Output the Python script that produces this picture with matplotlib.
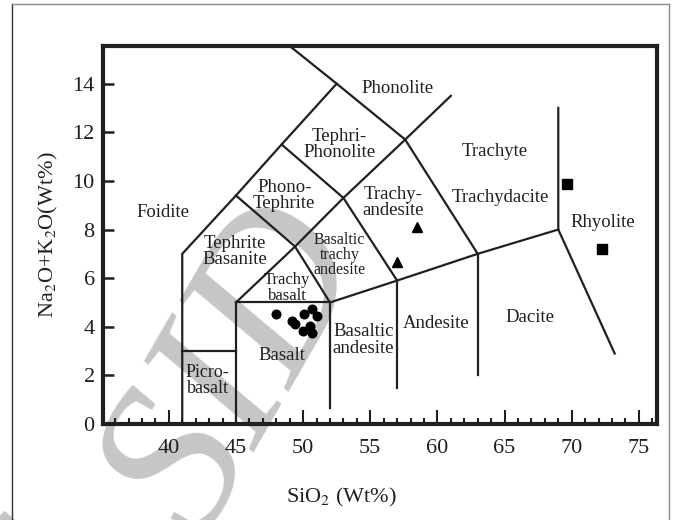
import matplotlib
matplotlib.use("Agg")
import matplotlib.pyplot as plt
from matplotlib.lines import Line2D
import numpy as np

plt.rcParams['font.family'] = ['Liberation Serif', 'DejaVu Serif']
plt.rcParams['mathtext.fontset'] = 'stix'

# --- TAS field boundaries (SiO2, Na2O+K2O) ---
boundaries = [
    [(41, 0), (41, 7), (45, 9.4), (48.4, 11.5), (52.5, 14), (49.0, 15.55)],
    [(41, 3), (45, 3)],
    [(45, 0), (45, 5), (52, 5), (52, 0.65)],
    [(45, 5), (49.4, 7.3), (53, 9.3), (57.6, 11.7), (61, 13.5)],
    [(45, 9.4), (49.4, 7.3), (52, 5)],
    [(48.4, 11.5), (53, 9.3), (57, 5.9)],
    [(52, 5), (57, 5.9), (63, 7), (69, 8)],
    [(57, 5.9), (57, 1.5)],
    [(63, 7), (63, 2)],
    [(52.5, 14), (57.6, 11.7), (63, 7)],
    [(69, 13), (69, 8), (73.2, 2.9)],
]

# --- field names: (label, SiO2, alkali, fontsize) ---
field_names = ["Foidite", "Phonolite", "Tephri-\nPhonolite", "Phono-\nTephrite",
               "Tephrite\nBasanite", "Trachy-\nandesite", "Basaltic\ntrachy\nandesite",
               "Trachy\nbasalt", "Basalt", "Picro-\nbasalt", "Basaltic\nandesite",
               "Andesite", "Dacite", "Trachyte", "Trachydacite", "Rhyolite"]
field_x = [39.6, 57.0, 52.7, 48.6, 44.9, 56.7, 52.7, 48.8, 48.4, 42.9, 54.5,
           59.9, 66.9, 64.3, 64.7, 72.3]
field_y = [8.7, 13.8, 11.5, 9.4, 7.1, 9.1, 6.95, 5.6, 2.8, 1.8, 3.45,
           4.15, 4.4, 11.2, 9.3, 8.3]
field_size = [13.5, 13.5, 13.5, 13.5, 13.5, 13.5, 11.5, 12, 13.5, 13, 13.5,
              13.5, 13.5, 13.5, 13.5, 13.5]

# --- samples ---
basalt_sio2 = [47.98, 49.17, 49.39, 50.06, 50.66, 51.03, 49.99, 50.51, 50.66]
basalt_alk = [4.53, 4.24, 4.12, 4.53, 4.73, 4.44, 3.83, 4.03, 3.74]
trachy_sio2 = [58.48, 56.99]
trachy_alk = [8.10, 6.67]
rhyo_sio2 = [69.65, 72.25]
rhyo_alk = [9.88, 7.20]

x_major = [40, 45, 50, 55, 60, 65, 70, 75]
y_major = [0, 2, 4, 6, 8, 10, 12, 14]

W, H = 678, 520
fig = plt.figure(figsize=(W / 100, H / 100), dpi=100)
ax = fig.add_axes([103 / W, 1 - 424 / H, (657 - 103) / W, (424 - 46) / H])
ax.set_facecolor('none')

# page frame
ink = '#231f20'
fig.add_artist(Line2D([12 / W, 12 / W], [0, 1 - 4 / H], transform=fig.transFigure, color='#333333', lw=1.0))
fig.add_artist(Line2D([12 / W, 669 / W], [1 - 4 / H, 1 - 4 / H], transform=fig.transFigure, color='#8a8a8a', lw=1.0))
fig.add_artist(Line2D([669 / W, 669 / W], [0, 1 - 4 / H], transform=fig.transFigure, color='#8a8a8a', lw=1.0))

# archive watermark behind the diagram
wm = dict(fontsize=155, color='#c6c6c6', style='italic', rotation=60,
          rotation_mode='anchor', va='baseline', zorder=-5)
fig.text(200 / W, 1 - 542 / H, "SID", ha='left', **wm)
fig.text(118 / W, 1 - 600 / H, "of", ha='right', **wm)

for seg in boundaries:
    xs, ys = zip(*seg)
    ax.plot(xs, ys, color=ink, lw=1.6, solid_joinstyle='miter', zorder=2)

for name, x, y, s in zip(field_names, field_x, field_y, field_size):
    ax.text(x, y, name, ha='center', va='center', fontsize=s, color=ink,
            linespacing=0.95, zorder=3)

ax.plot(basalt_sio2, basalt_alk, 'o', color='black', ms=6.2, zorder=4)
ax.plot(trachy_sio2, trachy_alk, '^', color='black', ms=6.5, zorder=4)
ax.plot(rhyo_sio2, rhyo_alk, 's', color='black', ms=6.5, zorder=4)

ax.set_xlim(35.1, 76.35)
ax.set_ylim(0, 15.55)

for sp in ax.spines.values():
    sp.set_linewidth(3.0)
    sp.set_color(ink)

ax.set_xticks(x_major)
ax.set_xticks(np.arange(36, 77, 1), minor=True)
ax.set_yticks(y_major)
ax.tick_params(axis='x', which='major', direction='in', length=10, width=1.5,
               labelsize=16, pad=11, colors=ink)
ax.tick_params(axis='x', which='minor', direction='in', length=4.5, width=1.5, colors=ink)
ax.tick_params(axis='y', which='major', direction='in', length=8, width=1.8,
               labelsize=16, pad=6, colors=ink)

ax.set_xlabel(r'SiO$_2$ (Wt%)', fontsize=16, color=ink)
ax.set_ylabel(r'Na$_2$O+K$_2$O(Wt%)', fontsize=16, color=ink)
ax.xaxis.set_label_coords(0.43, -0.165)
ax.yaxis.set_label_coords(-0.078, 0.5)

fig.savefig('out.png', dpi=100)
